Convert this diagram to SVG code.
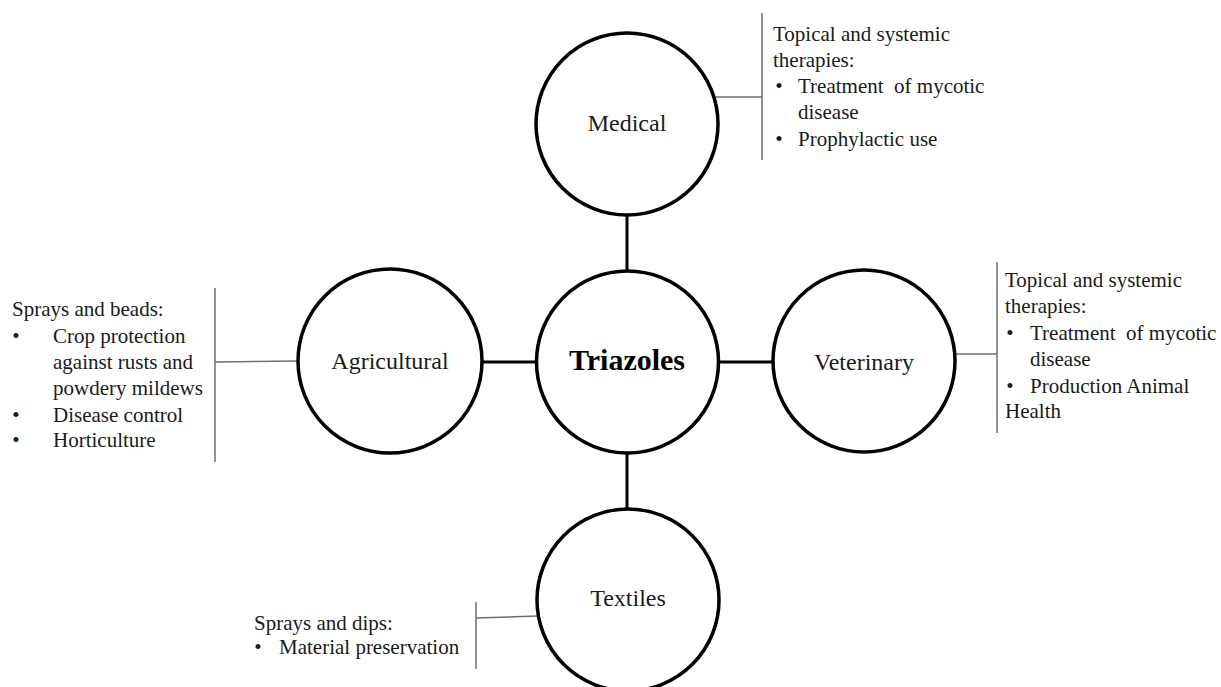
<svg xmlns="http://www.w3.org/2000/svg" width="1221" height="687" viewBox="0 0 1221 687">
  <style>
    .node { fill: #ffffff; stroke: #000000; stroke-width: 3.5; }
    .link { stroke: #000000; stroke-width: 3; fill: none; }
    .callout { stroke: #6e6e6e; stroke-width: 1.5; fill: none; }
    .label { font-family: "Liberation Serif", "Times New Roman", serif; font-size: 24px; fill: #1a1a1a; text-anchor: middle; }
    .hub { font-family: "Liberation Serif", "Times New Roman", serif; font-size: 30px; font-weight: bold; fill: #000000; text-anchor: middle; }
    .note text { font-family: "Liberation Serif", "Times New Roman", serif; font-size: 21px; fill: #1a1a1a; white-space: pre; }
    .note text.dot { text-anchor: middle; }
  </style>
  <rect width="1221" height="687" fill="#ffffff"/>

  <!-- connectors between the hub and the four application areas -->
  <g id="connectors">
    <line class="link" x1="627" y1="215" x2="627" y2="271"/>
    <line class="link" x1="627" y1="453" x2="627" y2="508"/>
    <line class="link" x1="482" y1="362" x2="536" y2="362"/>
    <line class="link" x1="719" y1="362" x2="773" y2="362"/>
    <!-- bracket lines leading to the notes -->
    <line class="callout" x1="716" y1="97" x2="762" y2="97"/>
    <line class="callout" x1="762" y1="13" x2="762" y2="160"/>
    <line class="callout" x1="215" y1="362" x2="298" y2="361"/>
    <line class="callout" x1="215" y1="288" x2="215" y2="462"/>
    <line class="callout" x1="956" y1="354" x2="997" y2="354"/>
    <line class="callout" x1="997" y1="262" x2="997" y2="433"/>
    <line class="callout" x1="476" y1="618" x2="537" y2="616"/>
    <line class="callout" x1="476" y1="602" x2="476" y2="669"/>
  </g>

  <g id="triazoles">
    <circle class="node" cx="627.5" cy="362" r="91"/>
    <text class="hub" x="627" y="370">Triazoles</text>
  </g>

  <g id="medical">
    <circle class="node" cx="627" cy="124" r="91"/>
    <text class="label" x="627" y="131">Medical</text>
  </g>

  <g id="agricultural">
    <circle class="node" cx="390" cy="361" r="92"/>
    <text class="label" x="390" y="369">Agricultural</text>
  </g>

  <g id="veterinary">
    <circle class="node" cx="864" cy="361" r="91"/>
    <text class="label" x="864" y="370">Veterinary</text>
  </g>

  <g id="textiles">
    <circle class="node" cx="628" cy="600" r="91"/>
    <text class="label" x="628" y="606">Textiles</text>
  </g>

  <g id="medical-notes" class="note">
    <text x="773" y="41">Topical and systemic</text>
    <text x="773" y="67">therapies:</text>
    <text class="dot" x="779" y="93">•</text>
    <text x="798" y="93" xml:space="preserve">Treatment  of mycotic</text>
    <text x="798" y="119">disease</text>
    <text class="dot" x="779" y="146">•</text>
    <text x="798" y="146">Prophylactic use</text>
  </g>

  <g id="agricultural-notes" class="note">
    <text x="12" y="316">Sprays and beads:</text>
    <text class="dot" x="16" y="343">•</text>
    <text x="53" y="343">Crop protection</text>
    <text x="53" y="369">against rusts and</text>
    <text x="53" y="395">powdery mildews</text>
    <text class="dot" x="16" y="422">•</text>
    <text x="53" y="422">Disease control</text>
    <text class="dot" x="16" y="447">•</text>
    <text x="53" y="447">Horticulture</text>
  </g>

  <g id="veterinary-notes" class="note">
    <text x="1005" y="287">Topical and systemic</text>
    <text x="1005" y="313">therapies:</text>
    <text class="dot" x="1010" y="340">•</text>
    <text x="1030" y="340" xml:space="preserve">Treatment  of mycotic</text>
    <text x="1030" y="366">disease</text>
    <text class="dot" x="1010" y="393">•</text>
    <text x="1030" y="393">Production Animal</text>
    <text x="1005" y="418">Health</text>
  </g>

  <g id="textiles-notes" class="note">
    <text x="254" y="630">Sprays and dips:</text>
    <text class="dot" x="258" y="654">•</text>
    <text x="279" y="654">Material preservation</text>
  </g>
</svg>
